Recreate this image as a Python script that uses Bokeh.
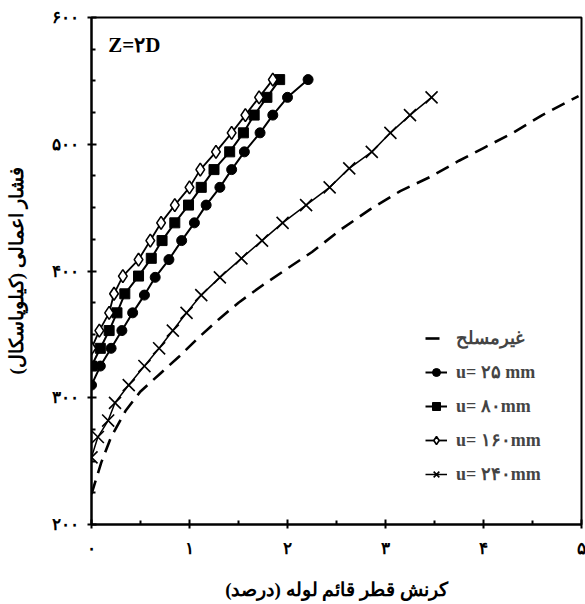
from bokeh.plotting import figure
from bokeh.models import Legend, LegendItem, Label, FixedTicker
from bokeh.embed import file_html
from bokeh.resources import INLINE

# ---- data (strain %, pressure kPa) ----
x_unreinforced = [0.0, 0.1, 0.2, 0.35, 0.5, 0.7, 0.9, 1.1, 1.3, 1.5, 1.75, 2.0, 2.25, 2.55,
                  2.85, 3.15, 3.45, 3.75, 4.0, 4.3, 4.6, 4.97]
y_unreinforced = [224, 249, 269, 290, 305, 319, 333, 348, 362, 375, 389, 402, 415, 433,
                  449, 463, 474, 487, 497, 509, 523, 538]

x_u25 = [0.0, 0.09, 0.20, 0.31, 0.42, 0.54, 0.65, 0.79, 0.92, 1.05, 1.17, 1.31, 1.43, 1.56,
         1.72, 1.85, 2.00, 2.21]
y_u25 = [310, 325, 339, 353, 367, 381, 395, 409, 424, 438, 452, 466, 480, 494, 509, 523, 537, 551]

x_u80 = [0.0, 0.09, 0.18, 0.26, 0.34, 0.48, 0.61, 0.72, 0.85, 0.99, 1.12, 1.25, 1.41, 1.55,
         1.66, 1.79, 1.92]
y_u80 = [325, 339, 353, 367, 382, 396, 410, 424, 438, 452, 466, 480, 494, 509, 523, 537, 551]

x_u160 = [0.0, 0.08, 0.18, 0.23, 0.32, 0.48, 0.60, 0.71, 0.85, 1.00, 1.11, 1.27, 1.43, 1.57,
          1.71, 1.85]
y_u160 = [339, 353, 367, 382, 396, 409, 424, 438, 452, 466, 480, 494, 509, 523, 537, 551]

x_u240 = [0.0, 0.065, 0.17, 0.24, 0.38, 0.54, 0.69, 0.83, 0.97, 1.12, 1.31, 1.53, 1.74, 1.95,
          2.19, 2.43, 2.63, 2.86, 3.05, 3.25, 3.47]
y_u240 = [253, 269, 282, 296, 310, 325, 339, 353, 367, 381, 395, 410, 424, 438, 452, 466,
          481, 494, 509, 523, 537]

x_ticks = [0, 1, 2, 3, 4, 5]
x_tick_labels = ["\u06f0", "\u06f1", "\u06f2", "\u06f3", "\u06f4", "\u06f5"]
y_ticks = [200, 300, 400, 500, 600]
y_tick_labels = ["\u06f2\u06f0\u06f0", "\u06f3\u06f0\u06f0", "\u06f4\u06f0\u06f0",
                 "\u06f5\u06f0\u06f0", "\u06f6\u06f0\u06f0"]

labels = ["غیرمسلح", "u= ۲۵ mm", "u= ۸۰mm", "u= ۱۶۰mm", "u= ۲۴۰mm"]
x_title = "\u200fکرنش قطر قائم لوله (درصد)\u200f"
y_title = "\u200fفشار اعمالی (کیلوپاسکال)\u200f"
panel_title = "Z=۲D"

FONT = "Liberation Serif"

p = figure(width=585, height=604, x_range=(0, 5), y_range=(200, 600),
           output_backend="svg", toolbar_location=None,
           min_border_left=91, min_border_right=4, min_border_top=17, min_border_bottom=80)

p.xgrid.visible = False
p.ygrid.visible = False
p.outline_line_color = "black"
p.outline_line_width = 2
p.background_fill_color = "white"
p.border_fill_color = "white"

for ax in (p.xaxis[0], p.yaxis[0]):
    ax.axis_line_width = 2
    ax.major_tick_line_width = 2
    ax.minor_tick_line_width = 2
    ax.major_tick_in = 5
    ax.major_tick_out = 4
    ax.minor_tick_in = 4
    ax.minor_tick_out = 0
    ax.major_label_text_font = FONT
    ax.major_label_text_font_style = "bold"
    ax.major_label_text_font_size = "17px"
    ax.axis_label_text_font = FONT
    ax.axis_label_text_font_style = "bold"
    ax.axis_label_text_font_size = "19px"
    ax.axis_label_text_color = "black"
    ax.major_label_text_color = "black"

p.xaxis.ticker = FixedTicker(ticks=x_ticks, minor_ticks=[0.5, 1.5, 2.5, 3.5, 4.5])
p.yaxis.ticker = FixedTicker(ticks=y_ticks,
                             minor_ticks=[v for v in range(225, 600, 25) if v % 100 != 0])
p.xaxis.major_label_overrides = dict(zip(x_ticks, x_tick_labels))
p.yaxis.major_label_overrides = dict(zip(y_ticks, y_tick_labels))
p.xaxis.axis_label = x_title
p.yaxis.axis_label = y_title
p.xaxis.major_label_standoff = 10
p.yaxis.major_label_standoff = 9
p.xaxis.axis_label_standoff = 18
p.yaxis.axis_label_standoff = 22

r0 = p.line(x_unreinforced, y_unreinforced, line_color="black", line_width=2.6, line_dash="14 8")

l1 = p.line(x_u25, y_u25, line_color="black", line_width=2)
s1 = p.scatter(x_u25, y_u25, marker="circle", size=10, fill_color="black", line_color="black")

l2 = p.line(x_u80, y_u80, line_color="black", line_width=2)
s2 = p.scatter(x_u80, y_u80, marker="square", size=10, fill_color="black", line_color="black")

l3 = p.line(x_u160, y_u160, line_color="black", line_width=1.8)
s3 = p.scatter(x_u160, y_u160, marker="diamond", size=13, fill_color="white",
               line_color="black", line_width=1.6)

l4 = p.line(x_u240, y_u240, line_color="black", line_width=1.5)
s4 = p.scatter(x_u240, y_u240, marker="x", size=17, line_color="black", line_width=1.6)

legend = Legend(items=[
    LegendItem(label=labels[0], renderers=[r0]),
    LegendItem(label=labels[1], renderers=[l1, s1]),
    LegendItem(label=labels[2], renderers=[l2, s2]),
    LegendItem(label=labels[3], renderers=[l3, s3]),
    LegendItem(label=labels[4], renderers=[l4, s4]),
], location=(334, 39), padding=0, margin=0, spacing=12,
    glyph_width=22, glyph_height=20, label_standoff=9,
    label_text_font=FONT, label_text_font_style="bold", label_text_font_size="18px",
    border_line_color=None, background_fill_alpha=0)
p.add_layout(legend)

p.add_layout(Label(x=0.17, y=578, text=panel_title, text_font=FONT, text_font_style="bold",
                   text_font_size="21px", text_baseline="middle", text_color="black"))

open("out.html", "w").write(file_html(p, INLINE))
